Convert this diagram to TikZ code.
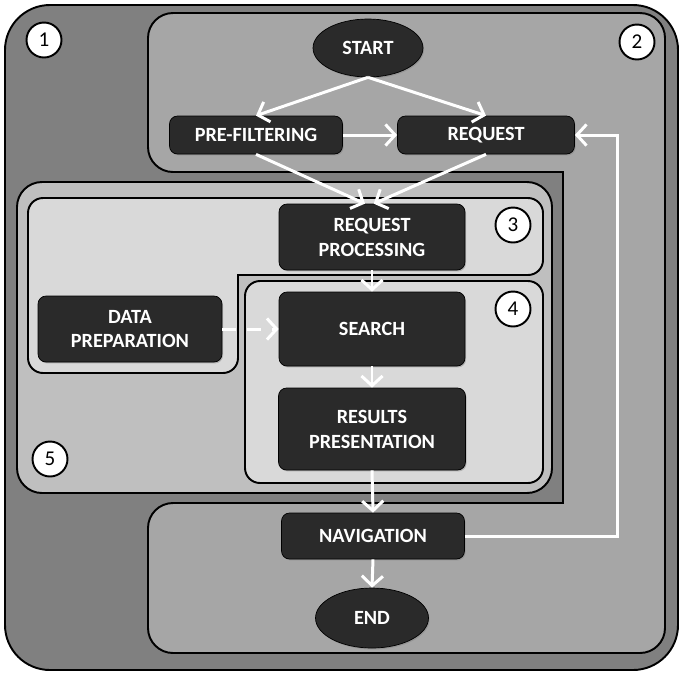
\documentclass[tikz,border=0pt]{standalone}
\usepackage{fontspec}
\setmainfont{Carlito}
\usetikzlibrary{arrows.meta,positioning,shapes.geometric,shadows}
\definecolor{outergray}{HTML}{808080}
\definecolor{midgray}{HTML}{A6A6A6}
\definecolor{lightgray}{HTML}{BFBFBF}
\definecolor{palegray}{HTML}{D9D9D9}
\definecolor{boxgray}{HTML}{2A2A2A}

\begin{document}
\begin{tikzpicture}[x=0.02cm,y=-0.02cm]
        \tikzstyle{every node}=[font=\bfseries\fontsize{11.5}{14.2}\selectfont]
        \tikzstyle{zone}=[draw=black,line width=1.1pt]
        \tikzstyle{stage}=[draw=black,fill=boxgray,text=white,rounded corners=0.16cm,align=center,inner sep=0pt,drop shadow={shadow xshift=0.6pt,shadow yshift=-0.8pt,opacity=0.45}]
        \tikzstyle{terminal}=[ellipse,draw=black,fill=boxgray,text=white,inner sep=0pt,drop shadow={shadow xshift=0.6pt,shadow yshift=-0.8pt,opacity=0.45}]
        \tikzstyle{tag}=[circle,draw=black,fill=white,line width=1.1pt,minimum size=0.7cm,inner sep=0pt,font=\fontsize{12}{14}\selectfont]
        \tikzstyle{flow}=[white,line width=1.7pt,-{Straight Barb[length=5.5pt,width=12pt]}]
        \useasboundingbox (0,0) rectangle (679,674);

        %%% Zones
        \draw[zone,fill=outergray,rounded corners=0.9cm] (5,5) rectangle (678,670);
        \draw[zone,fill=midgray] (148,100) [rounded corners=0.5cm] -- (148,172) [sharp corners] -- (563,172) -- (563,503) [rounded corners=0.5cm] -- (148,503) -- (148,653) -- (665,653) -- (665,13) -- (148,13) -- cycle;
        \draw[zone,fill=lightgray,rounded corners=0.5cm] (17,182) rectangle (552,493);
        \draw[zone,fill=palegray] (28,250) [rounded corners=0.3cm] -- (28,198) -- (543,198) -- (543,275) [sharp corners] -- (238,275) [rounded corners=0.3cm] -- (238,373) -- (28,373) -- cycle;
        \draw[zone,fill=palegray,rounded corners=0.3cm] (245,281) rectangle (543,483);

        \node[tag] (t1) at (44,40) {1};
        \node[tag] (t2) at (637,42) {2};
        \node[tag] (t3) at (513,225) {3};
        \node[tag] (t4) at (513,309) {4};
        \node[tag] (t5) at (50,459) {5};

        %%% Steps
        \node[terminal,minimum width=2.2cm,minimum height=1.16cm] (start) at (368,48) {START};
        \node[stage,minimum width=3.46cm,minimum height=0.76cm] (prefilter) at (256,135) {PRE-FILTERING};
        \node[stage,minimum width=3.54cm,minimum height=0.76cm] (request) at (486,135) {REQUEST};
        \node[stage,minimum width=3.72cm,minimum height=1.32cm] (process) at (372,237) {REQUEST\\PROCESSING};
        \node[stage,minimum width=3.68cm,minimum height=1.32cm] (dataprep) at (130,329) {DATA\\PREPARATION};
        \node[stage,minimum width=3.72cm,minimum height=1.48cm] (search) at (372,329) {SEARCH};
        \node[stage,minimum width=3.74cm,minimum height=1.64cm] (results) at (372,429) {RESULTS\\PRESENTATION};
        \node[stage,minimum width=3.66cm,minimum height=0.92cm] (navigation) at (373,536) {NAVIGATION};
        \node[terminal,minimum width=2.26cm,minimum height=1.2cm] (end) at (372,618) {END};
        \coordinate (back) at (617,536);

        \draw[flow] (start.south) -- (prefilter.north);
        \draw[flow] (start.south) -- (request.north);
        \draw[flow] (prefilter.east) -- (request.west);
        \draw[flow] (prefilter.south) -- ([xshift=-4pt]process.north);
        \draw[flow] (request.south) -- ([xshift=1pt]process.north);
        \draw[flow] (process.south) -- (search.north);
        \draw[flow,dash pattern=on 8pt off 6pt] (dataprep.east) -- (search.west);
        \draw[flow] (search.south) -- (results.north);
        \draw[flow] (results.south) -- (navigation.north);
        \draw[flow] (navigation.south) -- (end.north);
        \draw[flow] (navigation.east) -- (back) |- (request.east);
\end{tikzpicture}
\end{document}
